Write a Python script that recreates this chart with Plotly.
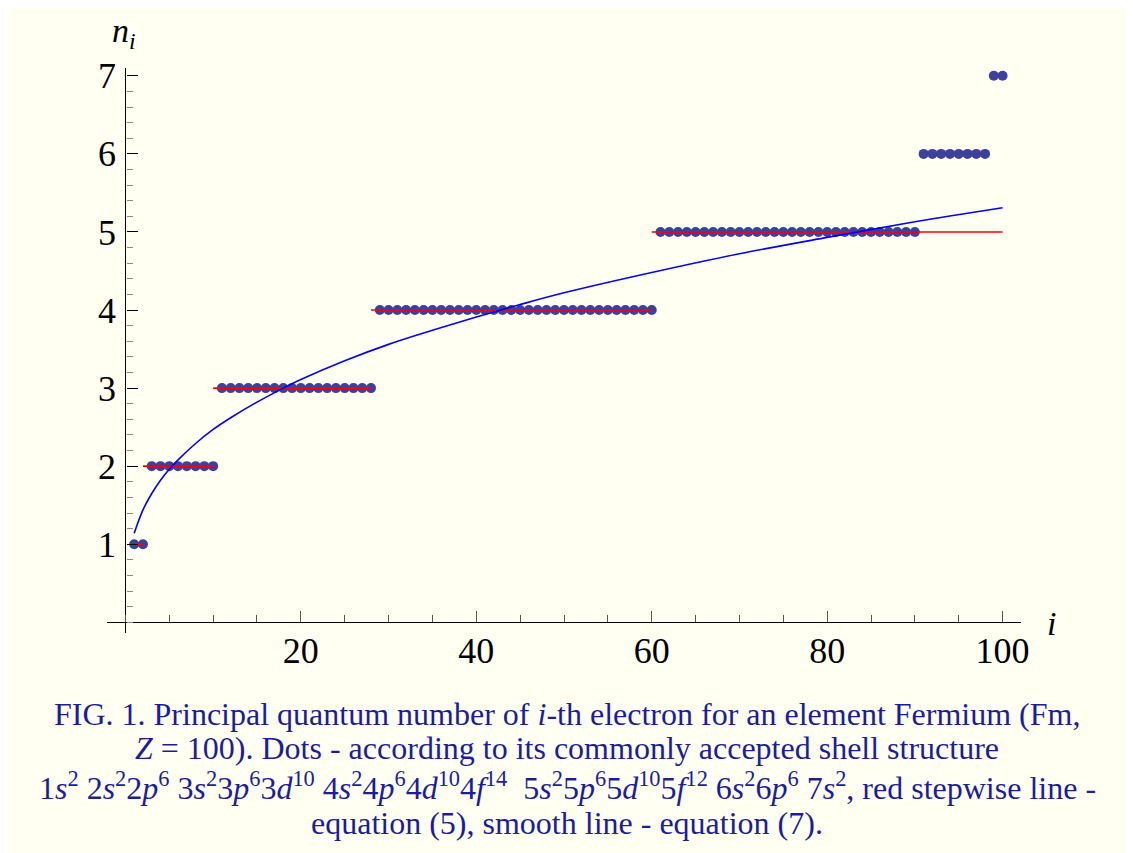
import plotly.graph_objects as go

# ---- data ----
shell_n = [1, 2, 3, 4, 5, 6, 7]
shell_counts = [2, 8, 18, 32, 30, 8, 2]

step_edges = [1, 2, 10, 28, 60, 100]
step_levels = [1, 2, 3, 4, 5]

i_curve = [1, 2, 3, 4, 5, 6, 8, 10, 12, 15, 18, 20, 25, 30, 35, 40, 45, 50, 60, 70, 80, 90, 100]
n_curve = [1.14, 1.44, 1.65, 1.82, 1.96, 2.08, 2.29, 2.47, 2.62, 2.82, 3.00, 3.11, 3.35,
           3.56, 3.74, 3.91, 4.07, 4.22, 4.48, 4.72, 4.93, 5.13, 5.31]

x_tick_vals = [20, 40, 60, 80, 100]
y_tick_vals = [1, 2, 3, 4, 5, 6, 7]

# ---- build traces ----
dot_i, dot_n = [], []
k = 1
for n, c in zip(shell_n, shell_counts):
    for _ in range(c):
        dot_i.append(k)
        dot_n.append(n)
        k += 1

step_x, step_y = [], []
for a, b, lev in zip(step_edges[:-1], step_edges[1:], step_levels):
    step_x += [a, b, None]
    step_y += [lev, lev, None]

BG = "#FFFFF2"
FONT = "Liberation Serif"
XR = [-2.1, 102.1]
YR = [-0.137, 7.1]

# page-pixel helpers (plot area spans x 107..1021, y 68..633 on the page)
def px(x):
    return (x - 107) / 914

def py(y):
    return (633 - y) / 565

fig = go.Figure()
fig.add_trace(go.Scatter(x=dot_i, y=dot_n, mode="markers",
                         marker=dict(size=10, color="#3f3f9c", line=dict(width=0)),
                         hoverinfo="skip"))
fig.add_trace(go.Scatter(x=step_x, y=step_y, mode="lines",
                         line=dict(color="#ff0000", width=1.6), hoverinfo="skip"))
fig.add_trace(go.Scatter(x=i_curve, y=n_curve, mode="lines",
                         line=dict(color="#0000ff", width=1.6, shape="spline"),
                         hoverinfo="skip"))

fig.update_layout(
    width=1133, height=853,
    paper_bgcolor=BG, plot_bgcolor=BG,
    showlegend=False,
    margin=dict(l=99, r=120, t=60, b=228),
    font=dict(family=FONT, color="black"),
    xaxis=dict(range=XR, anchor="free", position=(0 - YR[0]) / (YR[1] - YR[0]),
               showgrid=False, zeroline=False, showline=True, linecolor="black", linewidth=1.3,
               tickvals=x_tick_vals, ticks="inside", ticklen=11, tickcolor="#555",
               tickwidth=1, tickfont=dict(size=36, family=FONT, color="black"),
               ticklabelstandoff=-4,
               minor=dict(dtick=5, tick0=0, ticks="inside", ticklen=7, tickcolor="#555")),
    yaxis=dict(range=YR, anchor="free", position=(0 - XR[0]) / (XR[1] - XR[0]),
               showgrid=False, zeroline=False, showline=True, linecolor="black", linewidth=1.3,
               tickvals=y_tick_vals, ticks="inside", ticklen=11, tickcolor="black",
               tickwidth=1, tickfont=dict(size=36, family=FONT, color="black"),
               ticklabelstandoff=2,
               minor=dict(dtick=0.2, tick0=0, ticks="inside", ticklen=6, tickcolor="#888")),
)

# axis labels
fig.add_annotation(text="<i>n<sub>i</sub></i>", xref="paper", yref="paper",
                   x=px(110), y=py(10), showarrow=False,
                   font=dict(size=34, family=FONT, color="black"))
fig.add_annotation(text="<i>i</i>", xref="paper", yref="paper",
                   x=px(1058), y=py(644), showarrow=False,
                   font=dict(size=34, family=FONT, color="black"))

# caption
CAP = "#1c1ca0"
lines = [
    "FIG. 1. Principal quantum number of <i>i</i>-th electron for an element Fermium (Fm,",
    "<i>Z</i> = 100). Dots - according to its commonly accepted shell structure",
    "1<i>s</i><sup>2</sup> 2<i>s</i><sup>2</sup>2<i>p</i><sup>6</sup> 3<i>s</i><sup>2</sup>3<i>p</i><sup>6</sup>3<i>d</i><sup>10</sup> "
    "4<i>s</i><sup>2</sup>4<i>p</i><sup>6</sup>4<i>d</i><sup>10</sup>4<i>f</i><sup>14</sup>  "
    "5<i>s</i><sup>2</sup>5<i>p</i><sup>6</sup>5<i>d</i><sup>10</sup>5<i>f</i><sup>12</sup> "
    "6<i>s</i><sup>2</sup>6<i>p</i><sup>6</sup> 7<i>s</i><sup>2</sup>, red stepwise line -",
    "equation (5), smooth line - equation (7).",
]
centers = [714, 748, 786, 823]
for txt, yc in zip(lines, centers):
    fig.add_annotation(text=txt, xref="paper", yref="paper",
                       x=px(567), y=py(yc), showarrow=False,
                       xanchor="center", yanchor="middle",
                       font=dict(size=32, family=FONT, color=CAP))

fig.write_html("out.html")
